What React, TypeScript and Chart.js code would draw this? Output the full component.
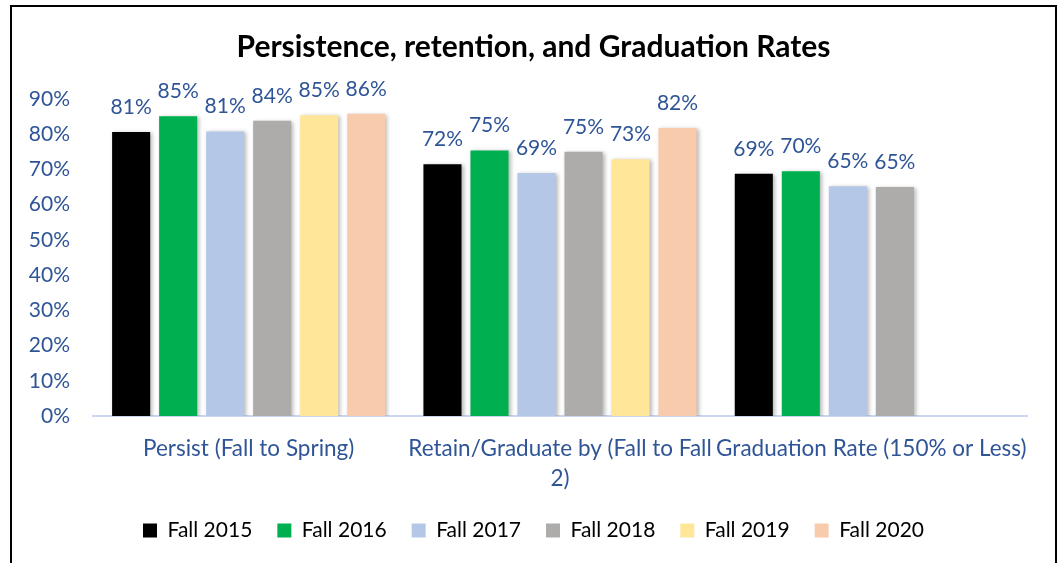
import React, { useEffect, useRef } from "react";
import { Chart, registerables } from "chart.js";

Chart.register(...registerables);

const categories: (string | string[])[] = [
  "Persist (Fall to Spring)",
  ["Retain/Graduate by (Fall to Fall", "2)"],
  "Graduation Rate (150% or Less)",
];
const seriesNames = ["Fall 2015", "Fall 2016", "Fall 2017", "Fall 2018", "Fall 2019", "Fall 2020"];
const fall2015 = [80.6, 71.5, 68.8];
const fall2016 = [85.1, 75.4, 69.5];
const fall2017 = [80.8, 69.0, 65.2];
const fall2018 = [83.8, 75.0, 65.0];
const fall2019 = [85.4, 72.9, null];
const fall2020 = [85.8, 81.8, null];
const seriesColors = ["#000000", "#00B050", "#B4C7E7", "#AEABAB", "#FFE699", "#F8CBAD"];
const yTicksMax = 90;
const yTickStep = 10;

const TEXT_BLUE = "#2F5597";
const FONT = "Lato, 'Open Sans', sans-serif";

const dataLabelPlugin = {
  id: "dataLabels",
  afterDatasetsDraw(chart: any) {
    const ctx = chart.ctx;
    ctx.save();
    ctx.font = `21px ${FONT}`;
    ctx.fillStyle = TEXT_BLUE;
    ctx.textAlign = "center";
    ctx.textBaseline = "alphabetic";
    chart.data.datasets.forEach((ds: any, i: number) => {
      const meta = chart.getDatasetMeta(i);
      meta.data.forEach((bar: any, j: number) => {
        const v = ds.data[j];
        if (v === null || v === undefined) return;
        ctx.fillText(Math.round(v) + "%", bar.x, bar.y - 18);
      });
    });
    ctx.restore();
  },
};

const shadowPlugin = {
  id: "barShadow",
  beforeDatasetDraw(chart: any) {
    const ctx = chart.ctx;
    ctx.save();
    ctx.shadowColor = "rgba(0,0,0,0.28)";
    ctx.shadowBlur = 4;
    ctx.shadowOffsetX = 2;
    ctx.shadowOffsetY = 1;
  },
  afterDatasetDraw(chart: any) {
    chart.ctx.restore();
  },
};

export default function App() {
  const ref = useRef<HTMLCanvasElement>(null);
  useEffect(() => {
    if (!ref.current) return;
    const values = [fall2015, fall2016, fall2017, fall2018, fall2019, fall2020];
    const chart = new Chart(ref.current, {
      type: "bar",
      data: {
        labels: categories as any,
        datasets: seriesNames.map((name, i) => ({
          label: name,
          data: values[i] as any,
          backgroundColor: seriesColors[i],
          borderWidth: 0,
          categoryPercentage: 0.906,
          barPercentage: 0.81,
        })),
      },
      options: {
        responsive: false,
        animation: false,
        layout: { padding: { left: 0, right: 0, top: 0, bottom: 12 } },
        scales: {
          x: {
            grid: { display: false, drawTicks: false },
            border: { display: true, color: "#C9D8EE", width: 2 },
            ticks: {
              color: TEXT_BLUE,
              font: { family: FONT, size: 22.5, lineHeight: "30px" } as any,
              padding: 18,
              maxRotation: 0,
              autoSkip: false,
            },
            afterFit: (s: any) => {
              s.height = 79;
            },
          },
          y: {
            min: 0,
            max: yTicksMax,
            grid: { display: false, drawTicks: false },
            border: { display: false },
            ticks: {
              stepSize: yTickStep,
              color: TEXT_BLUE,
              font: { family: FONT, size: 21 },
              padding: 23,
              callback: (v: any) => v + "%",
            },
            afterFit: (s: any) => {
              s.width = 81;
            },
          },
          y2: {
            position: "right",
            display: true,
            grid: { display: false, drawTicks: false },
            border: { display: false },
            ticks: { display: false },
            afterFit: (s: any) => {
              s.width = 28;
            },
          },
        },
        plugins: {
          title: {
            display: true,
            text: "Persistence, retention, and Graduation Rates",
            color: "#000000",
            font: { family: FONT, size: 30, weight: "bold", lineHeight: 1.2 },
            padding: { top: 22, bottom: 34 },
          },
          legend: {
            position: "bottom",
            labels: {
              color: "#000000",
              font: { family: FONT, size: 21 },
              boxWidth: 14,
              boxHeight: 14,
              padding: 25,
            },
          },
          tooltip: { enabled: false },
        },
      },
      plugins: [shadowPlugin, dataLabelPlugin],
    });
    return () => chart.destroy();
  }, []);

  return (
    <div
      style={{
        position: "absolute",
        left: 10,
        top: 5,
        width: 1043,
        height: 556,
        border: "2px solid #000",
        borderBottom: "none",
        background: "#fff",
        overflow: "hidden",
      }}
    >
      <canvas ref={ref} width={1043} height={556} style={{ display: "block" }} />
    </div>
  );
}
